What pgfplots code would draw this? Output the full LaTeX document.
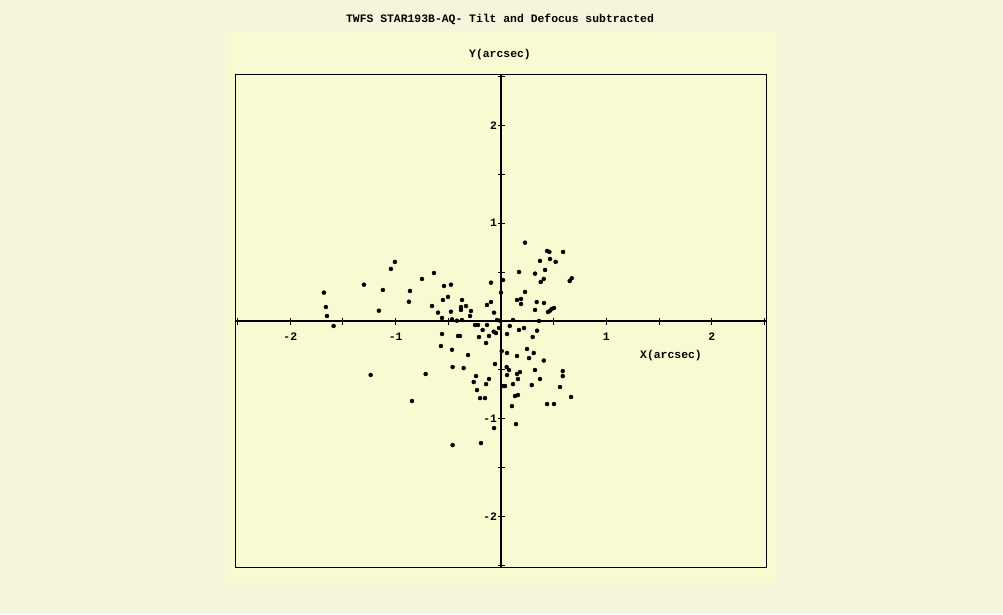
\documentclass[border=0pt]{standalone}
\usepackage{fontspec}
\usepackage{pgfplots}
\pgfplotsset{compat=1.18}
\newfontfamily\lbl{Liberation Mono}[BoldFont=* Bold]
\definecolor{outerbg}{RGB}{245,245,220}
\definecolor{panelbg}{RGB}{250,250,210}
\newcommand{\lf}{\lbl\bfseries\fontsize{11.4}{13}\selectfont}
\begin{document}
\begin{tikzpicture}
\fill[outerbg] (0pt,0pt) rectangle (1003pt,614pt);
\fill[panelbg] (225pt,31pt) rectangle (777pt,583pt);
\begin{axis}[
  at={(235.5pt,46.5pt)}, anchor=south west,
  scale only axis, width=531pt, height=493pt,
  xmin=-2.52, xmax=2.52, ymin=-2.52, ymax=2.52,
  axis lines=middle,
  axis line style={line width=1.2pt,-},
  every inner x axis line/.append style={-},
  every inner y axis line/.append style={-},
  hide obscured x ticks=false, hide obscured y ticks=false,
  xtick={-2.5,-2,-1.5,-1,-0.5,0,0.5,1,1.5,2,2.5},
  ytick={-2.5,-2,-1.5,-1,-0.5,0,0.5,1,1.5,2,2.5},
  xticklabels={,-2,,-1,,,,1,,2,},
  yticklabels={,-2,,-1,,,,1,,2,},
  tick align=center, major tick length=7pt,
  tick style={black, line width=1pt},
  ticklabel style={font=\lf},
  xticklabel style={yshift=-5pt},
  yticklabel style={xshift=3pt},
  clip=false,
]
\draw[line width=1.6pt] (rel axis cs:0,0) rectangle (rel axis cs:1,1);
\addplot[only marks, mark=*, mark size=2pt, black] coordinates {
(-1.681,0.290) (-1.662,0.143) (-1.652,0.051) (-1.589,-0.051)
(-1.301,0.371) (-1.159,0.105) (-1.121,0.317) (-1.045,0.532)
(-1.007,0.604) (-0.874,0.197) (-0.864,0.307) (-0.750,0.430)
(-0.636,0.491) (-0.655,0.153) (-0.598,0.085) (-0.560,0.031)
(-0.551,0.215) (-0.541,0.358) (-0.503,0.246) (-0.475,0.371)
(-0.475,0.095) (-0.465,0.017) (-0.418,0.003) (-0.370,0.215)
(-0.380,0.143) (-0.380,0.113) (-0.370,0.010) (-0.332,0.153)
(-0.285,0.102) (-0.294,0.051) (-0.133,0.164) (-0.095,0.194)
(-0.095,0.392) (-0.066,0.085) (-0.038,0.010) (-0.009,0.003)
(0.000,0.290) (0.019,0.419) (-0.247,-0.041) (-0.218,-0.041)
(-0.133,-0.041) (-0.174,-0.092) (-0.209,-0.164) (-0.114,-0.153)
(-0.069,-0.109) (-0.047,-0.123) (-0.019,-0.072) (-0.142,-0.225)
(-0.560,-0.133) (-0.408,-0.153) (-0.389,-0.153) (-0.570,-0.256)
(-0.465,-0.294) (-0.313,-0.348) (0.007,-0.307) (0.057,-0.327)
(0.057,-0.133) (0.083,-0.051) (-0.057,-0.440) (0.054,-0.471)
(0.076,-0.501) (0.057,-0.552) (-0.459,-0.471) (-0.354,-0.481)
(-1.237,-0.552) (-0.715,-0.542) (-0.237,-0.563) (-0.259,-0.624)
(-0.114,-0.593) (-0.142,-0.645) (-0.228,-0.706) (-0.199,-0.788)
(-0.152,-0.788) (0.019,-0.665) (0.038,-0.665) (-0.845,-0.818)
(-0.066,-1.095) (-0.459,-1.269) (-0.190,-1.248) (0.228,0.801)
(0.171,0.501) (0.437,0.716) (0.459,0.706) (0.589,0.706)
(0.370,0.614) (0.465,0.634) (0.519,0.604) (0.323,0.484)
(0.418,0.522) (0.406,0.430) (0.377,0.399) (0.228,0.297)
(0.152,0.215) (0.190,0.225) (0.190,0.174) (0.339,0.194)
(0.408,0.184) (0.323,0.113) (0.446,0.092) (0.465,0.105)
(0.481,0.123) (0.503,0.133) (0.652,0.409) (0.671,0.437)
(0.114,0.010) (0.361,0.000) (0.171,-0.092) (0.218,-0.072)
(0.342,-0.099) (0.301,-0.164) (0.152,-0.358) (0.247,-0.286)
(0.311,-0.327) (0.266,-0.379) (0.406,-0.404) (0.152,-0.542)
(0.180,-0.522) (0.161,-0.593) (0.323,-0.501) (0.370,-0.593)
(0.586,-0.512) (0.586,-0.563) (0.114,-0.645) (0.292,-0.655)
(0.560,-0.675) (0.133,-0.767) (0.161,-0.757) (0.665,-0.777)
(0.104,-0.870) (0.437,-0.849) (0.503,-0.849) (0.142,-1.054)
};
\end{axis}
\node[font=\lf] at (500pt,595pt) {TWFS STAR193B-AQ- Tilt and Defocus subtracted};
\node[font=\lf] at (500pt,559pt) {Y(arcsec)};
\node[font=\lf] at (671pt,258pt) {X(arcsec)};
\end{tikzpicture}
\end{document}
